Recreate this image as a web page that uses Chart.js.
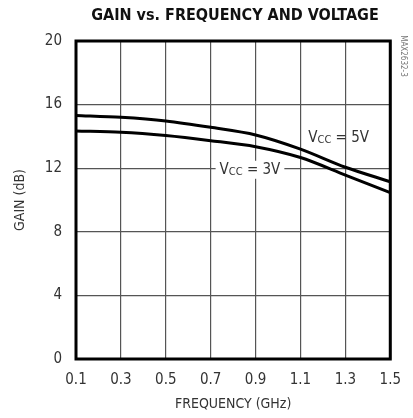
<!DOCTYPE html>
<html lang="en">
<head>
  <meta charset="UTF-8" />
  <title>Gain vs. Frequency and Voltage</title>
  <script src="https://cdn.jsdelivr.net/npm/chart.js"></script>
  <style>
    html, body { margin: 0; padding: 0; background: #fff; }
    #wrap { width: 413px; height: 418px; position: relative; }
  </style>
</head>
<body>
  <div id="wrap"><canvas id="gainChart" width="413" height="418"></canvas></div>

  <script>
    // frequency points (GHz) read at the grid lines
    const freqGHz = [0.1, 0.3, 0.5, 0.7, 0.9, 1.1, 1.3, 1.5];
    const gain5V = [15.32, 15.2, 14.97, 14.57, 14.09, 13.2, 12.06, 11.15];
    const gain3V = [14.34, 14.26, 14.05, 13.73, 13.35, 12.67, 11.57, 10.47];

    const xTicks = [0.1, 0.3, 0.5, 0.7, 0.9, 1.1, 1.3, 1.5];
    const yTicks = [0, 4, 8, 12, 16, 20];

    const FONT = "'Liberation Sans Narrow', 'DejaVu Sans Condensed', 'Liberation Sans', sans-serif";

    // title, frame, curve labels and the part number
    const extras = {
      id: 'extras',
      afterDraw(chart) {
        const { ctx, chartArea: a, scales } = chart;
        ctx.save();

        // frame
        ctx.strokeStyle = '#000';
        ctx.lineWidth = 3;
        ctx.strokeRect(a.left, a.top, a.right - a.left, a.bottom - a.top);

        // title
        ctx.fillStyle = '#111';
        ctx.font = 'bold 16px ' + FONT;
        ctx.textAlign = 'center';
        ctx.textBaseline = 'middle';
        ctx.fillText('GAIN vs. FREQUENCY AND VOLTAGE', 235, 16);

        // part number
        ctx.save();
        ctx.translate(403, 56);
        ctx.rotate(Math.PI / 2);
        ctx.fillStyle = '#777';
        ctx.font = '8px ' + FONT;
        ctx.fillText('MAX2632-3', 0, 0);
        ctx.restore();

        // curve labels
        function vccLabel(volt, fx, gy, clear) {
          const cx = scales.x.getPixelForValue(fx);
          const cy = scales.y.getPixelForValue(gy);
          const big = '15px ' + FONT, small = '11px ' + FONT;
          ctx.font = big; const wV = ctx.measureText('V').width;
          ctx.font = small; const wC = ctx.measureText('CC').width;
          ctx.font = big; const wR = ctx.measureText(' = ' + volt).width;
          const w = wV + wC + wR;
          let x = cx - w / 2;
          if (clear) {
            ctx.fillStyle = '#fff';
            ctx.fillRect(x - 4, cy - 9, w + 8, 18);
          }
          ctx.fillStyle = '#333';
          ctx.textAlign = 'left';
          ctx.textBaseline = 'middle';
          ctx.font = big; ctx.fillText('V', x, cy); x += wV;
          ctx.font = small; ctx.fillText('CC', x, cy + 2); x += wC;
          ctx.font = big; ctx.fillText(' = ' + volt, x, cy);
        }
        vccLabel('5V', 1.27, 13.9, false);
        vccLabel('3V', 0.875, 11.9, true);

        ctx.restore();
      }
    };

    const ctx = document.getElementById('gainChart').getContext('2d');
    new Chart(ctx, {
      type: 'line',
      data: {
        datasets: [
          { label: 'VCC = 5V', data: freqGHz.map((f, i) => ({ x: f, y: gain5V[i] })) },
          { label: 'VCC = 3V', data: freqGHz.map((f, i) => ({ x: f, y: gain3V[i] })) }
        ]
      },
      options: {
        responsive: false,
        animation: false,
        layout: { padding: { top: 41, right: 19, left: 0, bottom: 0 } },
        elements: {
          line: { borderColor: '#000', borderWidth: 3, tension: 0.3 },
          point: { radius: 0 }
        },
        plugins: {
          legend: { display: false },
          title: { display: false },
          tooltip: { enabled: false }
        },
        scales: {
          x: {
            type: 'linear',
            min: 0.1,
            max: 1.5,
            afterFit(s) { s.height = 59; },
            afterBuildTicks(s) { s.ticks = xTicks.map(v => ({ value: v })); },
            grid: { color: '#555', lineWidth: 1.2, drawTicks: false },
            border: { display: false },
            ticks: {
              padding: 12,
              color: '#333',
              font: { family: FONT, size: 15 },
              callback: v => v.toFixed(1)
            },
            title: {
              display: true,
              text: 'FREQUENCY (GHz)',
              color: '#333',
              font: { family: FONT, size: 14 },
              padding: { top: 0, bottom: 5 }
            }
          },
          y: {
            min: 0,
            max: 20,
            afterFit(s) { s.width = 76; },
            afterBuildTicks(s) { s.ticks = yTicks.map(v => ({ value: v })); },
            grid: { color: '#555', lineWidth: 1.2, drawTicks: false },
            border: { display: false },
            ticks: {
              padding: 14,
              color: '#333',
              font: { family: FONT, size: 15 }
            },
            title: {
              display: true,
              text: 'GAIN (dB)',
              color: '#333',
              font: { family: FONT, size: 14 },
              padding: { top: 12, bottom: 0 }
            }
          }
        }
      },
      plugins: [extras]
    });
  </script>
</body>
</html>
